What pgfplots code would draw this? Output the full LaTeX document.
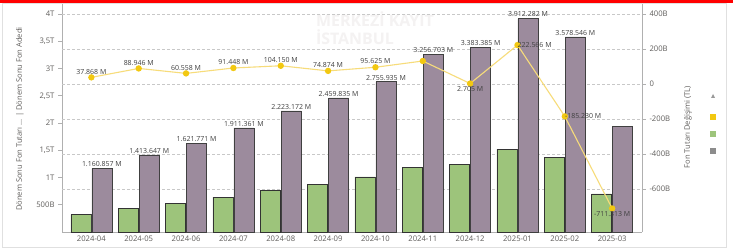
\documentclass[border=0pt]{standalone}
\usepackage{pgfplots}
\pgfplotsset{compat=1.18}
\usepackage{fontspec}
\setmainfont{Open Sans}
\definecolor{barGreen}{HTML}{9DC47B}
\definecolor{barPurple}{HTML}{9C8B9D}
\definecolor{lineYellow}{HTML}{F7DC7A}
\definecolor{markYellow}{HTML}{F2C811}
\definecolor{textGray}{HTML}{605E5C}
\definecolor{labGray}{HTML}{404040}
\definecolor{axisGray}{HTML}{B0B0B0}
\definecolor{gridGray}{HTML}{C8C8C8}
\definecolor{wm}{HTML}{F4F2F2}
\begin{document}
\begin{tikzpicture}
\path[use as bounding box] (0bp,0bp) rectangle (733bp,250bp);
\fill[white] (0bp,0bp) rectangle (733bp,250bp);
\draw[black!12] (2.5bp,2.5bp) rectangle (726bp,247bp);
% faint watermark
\begin{scope}[every node/.style={text=wm, font=\bfseries\fontsize{16}{16}\selectfont}]
\node at (375bp,231bp) {MERKEZİ KAYIT};
\node at (355bp,213bp) {İSTANBUL};
\end{scope}
\fill[red] (0bp,247bp) rectangle (733bp,250bp);
% ---------- bar axis (left) ----------
\begin{axis}[
  at={(62bp,18bp)}, anchor=south west, scale only axis,
  width=580bp, height=228bp,
  xmin=-0.62, xmax=11.63, ymin=0, ymax=4183.5,
  axis y line*=left, axis x line*=bottom,
  axis line style={axisGray, line width=0.6bp},
  xtick={0,...,11},
  xticklabels={2024-04,2024-05,2024-06,2024-07,2024-08,2024-09,2024-10,2024-11,2024-12,2025-01,2025-02,2025-03},
  x tick style={draw=none},
  ytick={500,1000,1500,2000,2500,3000,3500,4000},
  yticklabels={500B,1T,{1,5T},2T,{2,5T},3T,{3,5T},4T},
  y tick style={axisGray, line width=0.5bp},
  ytick align=outside, major tick length=3.5bp,
  tick label style={text=textGray, font=\fontsize{7.7}{8}\selectfont},
  yticklabel style={xshift=-0.5bp},
  xticklabel style={yshift=-0.5bp},
  extra y ticks={788.96,1431.1,2073.3,2715.6,3357.8,4000},
  extra y tick labels={},
  extra y tick style={grid=major, major tick length=0pt, major grid style={gridGray, dashed, dash pattern=on 3bp off 2bp, line width=0.5bp}},
  clip=false,
]
\addplot[ybar, bar width=20bp, bar shift=-10.5bp, fill=barGreen, draw=black!80, line width=0.6bp]
  coordinates {(0,320) (1,440) (2,520) (3,640) (4,770) (5,870) (6,1010) (7,1190) (8,1240) (9,1520) (10,1370) (11,700)};
\addplot[ybar, bar width=20bp, bar shift=10.5bp, fill=barPurple, draw=black!75, line width=0.6bp]
  coordinates {(0,1160.857) (1,1413.647) (2,1621.771) (3,1911.361) (4,2223.172) (5,2459.835) (6,2755.935) (7,3256.703) (8,3383.385) (9,3912.282) (10,3578.546) (11,1940)};
\addplot[draw=none, mark=none, nodes near coords, point meta=explicit symbolic,
  nodes near coords style={anchor=south, text=labGray, font=\fontsize{7}{7}\selectfont, inner sep=1.5bp}]
  coordinates {(0.222,1160.857) [1.160.857 M] (1.222,1413.647) [1.413.647 M] (2.222,1621.771) [1.621.771 M]
   (3.222,1911.361) [1.911.361 M] (4.222,2223.172) [2.223.172 M] (5.222,2459.835) [2.459.835 M]
   (6.222,2755.935) [2.755.935 M] (7.222,3256.703) [3.256.703 M] (8.222,3383.385) [3.383.385 M]
   (9.222,3912.282) [3.912.282 M] (10.222,3578.546) [3.578.546 M]};
\end{axis}
% ---------- line axis (right) ----------
\begin{axis}[
  at={(62bp,18bp)}, anchor=south west, scale only axis,
  width=580bp, height=228bp,
  xmin=-0.62, xmax=11.63, ymin=-845.7, ymax=457.1,
  axis y line*=right, axis x line=none,
  axis line style={axisGray, line width=0.6bp},
  ytick={-600,-400,-200,0,200,400},
  yticklabels={-600B,-400B,-200B,0,200B,400B},
  y tick style={axisGray, line width=0.5bp},
  ytick align=outside, major tick length=3.5bp,
  tick label style={text=textGray, font=\fontsize{7.7}{8}\selectfont},
  yticklabel style={xshift=0.5bp},
  clip=false,
]
\addplot[lineYellow, line width=1.1bp, mark=*, mark size=2.6bp, mark options={fill=markYellow, draw=markYellow}]
  coordinates {(0,37.868) (1,88.946) (2,60.558) (3,91.448) (4,104.150) (5,74.874) (6,95.625) (7,131.4) (8,2.705) (9,222.566) (10,-185.230) (11,-711.313)};
\addplot[draw=none, mark=none, nodes near coords, point meta=explicit symbolic,
  nodes near coords style={anchor=south, text=labGray, font=\fontsize{7}{7}\selectfont, inner sep=1bp, yshift=2bp}]
  coordinates {(0,37.868) [37.868 M] (1,88.946) [88.946 M] (2,60.558) [60.558 M] (3,91.448) [91.448 M]
   (4,104.150) [104.150 M] (5,74.874) [74.874 M] (6,95.625) [95.625 M]};
\addplot[draw=none, mark=none, nodes near coords, point meta=explicit symbolic,
  nodes near coords style={anchor=north, text=labGray, font=\fontsize{7}{7}\selectfont, inner sep=1bp, yshift=-2bp}]
  coordinates {(8,2.705) [2.705 M]};
\addplot[draw=none, mark=none, nodes near coords, point meta=explicit symbolic,
  nodes near coords style={anchor=west, text=labGray, font=\fontsize{7}{7}\selectfont, inner sep=1bp, xshift=-1bp}]
  coordinates {(9,222.566) [222.566 M] (10,-185.230) [-185.230 M]};
\addplot[draw=none, mark=none, nodes near coords, point meta=explicit symbolic,
  nodes near coords style={anchor=center, text=labGray, font=\fontsize{7}{7}\selectfont, inner sep=1bp, yshift=-6bp}]
  coordinates {(11,-711.313) [-711.313 M]};
\end{axis}
% axis titles
\node[rotate=90, text=textGray, font=\fontsize{7.6}{8}\selectfont] at (20bp,131bp) {Dönem Sonu Fon Tutarı ... | Dönem Sonu Fon Adedi};
\node[rotate=90, text=textGray, font=\fontsize{7.6}{8}\selectfont] at (688bp,123bp) {Fon Tutarı Değişimi (TL)};
% legend glyphs
\fill[black!40] (711bp,152bp) -- (715bp,152bp) -- (713bp,156bp) -- cycle;
\fill[markYellow] (710bp,130bp) rectangle (716bp,136bp);
\fill[barGreen] (710bp,113bp) rectangle (716bp,119bp);
\fill[black!45] (710bp,96bp) rectangle (716bp,102bp);
\end{tikzpicture}
\end{document}
